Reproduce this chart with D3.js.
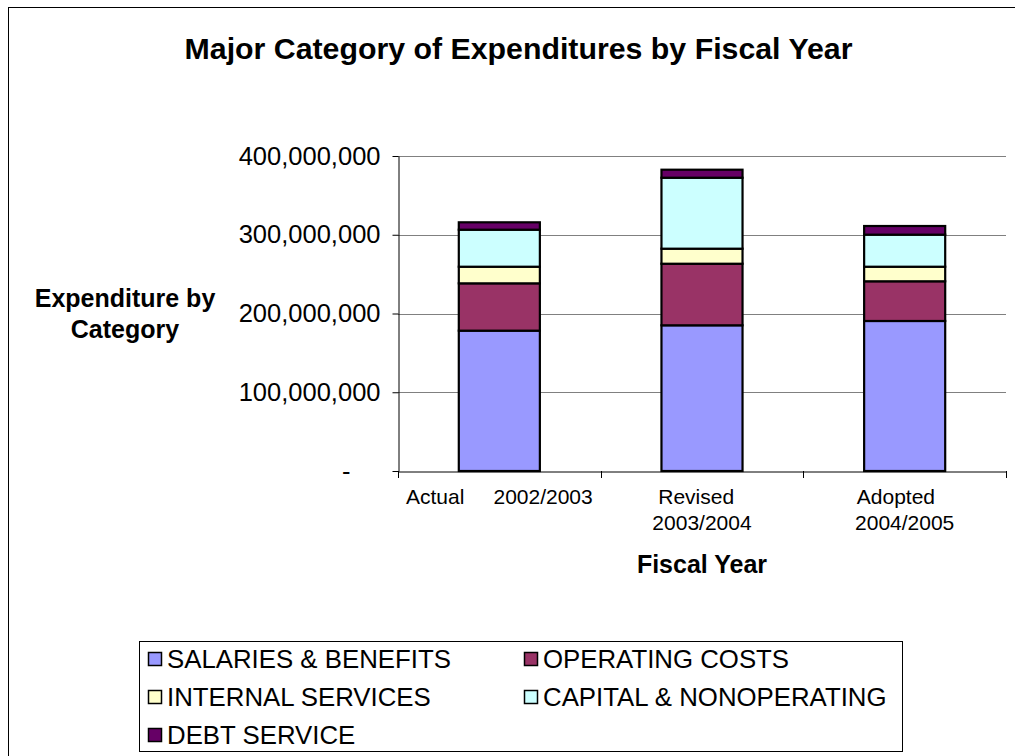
<!DOCTYPE html>
<html>
<head>
<meta charset="utf-8">
<script src="https://cdn.jsdelivr.net/npm/d3@7"></script>
<style>
  html, body { margin: 0; padding: 0; background: #fff; }
  svg { display: block; }
  text { font-family: Arial, "Liberation Sans", sans-serif; fill: #000; }
</style>
</head>
<body>
<svg id="chart" width="1015" height="756"></svg>
<script>
// Expenditures by major category, per fiscal year (dollars)
const fiscalYears = ["Actual 2002/2003", "Revised 2003/2004", "Adopted 2004/2005"];
const yearLabelLines = [["Actual     2002/2003"], ["Revised  ", "2003/2004"], ["Adopted   ", "2004/2005"]];
const seriesNames = ["SALARIES & BENEFITS", "OPERATING COSTS", "INTERNAL SERVICES", "CAPITAL & NONOPERATING", "DEBT SERVICE"];
const salariesBenefits    = [178.2e6, 185.0e6, 190.5e6];
const operatingCosts      = [60.1e6, 78.2e6, 50.4e6];
const internalServices    = [21.1e6, 19.1e6, 18.5e6];
const capitalNonoperating = [47.0e6, 90.1e6, 40.7e6];
const debtService         = [9.4e6, 10.2e6, 11.0e6];
const yTicks = [0, 100e6, 200e6, 300e6, 400e6];
const seriesColors = ["#9999FF", "#993366", "#FFFFCC", "#CCFFFF", "#660066"];

const seriesValues = [salariesBenefits, operatingCosts, internalServices, capitalNonoperating, debtService];
const table = fiscalYears.map((year, i) => {
  const row = { year };
  seriesNames.forEach((name, k) => { row[name] = seriesValues[k][i]; });
  return row;
});

const svg = d3.select("#chart");

// chart frame
svg.append("rect")
  .attr("x", 8.5).attr("y", 7.5)
  .attr("width", 1100).attr("height", 800)
  .attr("fill", "#fff").attr("stroke", "#000").attr("stroke-width", 1);

const plot = { left: 398, right: 1006, top: 156, bottom: 471 };

const x = d3.scaleBand()
  .domain(fiscalYears)
  .range([plot.left, plot.right])
  .paddingInner(0.6)
  .paddingOuter(0.3);

const y = d3.scaleLinear()
  .domain([0, 400e6])
  .range([plot.bottom, plot.top]);

const color = d3.scaleOrdinal().domain(seriesNames).range(seriesColors);

// horizontal gridlines
svg.append("g")
  .selectAll("line")
  .data(yTicks.filter(t => t > 0))
  .join("line")
  .attr("x1", plot.left).attr("x2", plot.right)
  .attr("y1", d => Math.round(y(d)) + 0.5).attr("y2", d => Math.round(y(d)) + 0.5)
  .attr("stroke", "#808080").attr("stroke-width", 1);

// stacked bars
const stacked = d3.stack().keys(seriesNames)(table);
svg.append("g")
  .selectAll("g")
  .data(stacked)
  .join("g")
  .attr("fill", d => color(d.key))
  .selectAll("rect")
  .data(d => d)
  .join("rect")
  .attr("x", d => x(d.data.year))
  .attr("y", d => y(d[1]))
  .attr("width", x.bandwidth())
  .attr("height", d => y(d[0]) - y(d[1]))
  .attr("stroke", "#000")
  .attr("stroke-width", 2.2);

// y axis
const yAxis = svg.append("g")
  .attr("transform", `translate(${plot.left + 0.5},0)`)
  .call(d3.axisLeft(y)
    .tickValues(yTicks)
    .tickSizeInner(6)
    .tickSizeOuter(0)
    .tickPadding(12)
    .tickFormat(d => d === 0 ? "-" : d3.format(",")(d)));
yAxis.select(".domain").attr("stroke", "#000");
yAxis.selectAll(".tick line").attr("stroke", "#000");
yAxis.selectAll(".tick text")
  .attr("font-size", 25.5)
  .attr("font-family", "Arial, 'Liberation Sans', sans-serif")
  .attr("fill", "#000")
  .attr("dx", d => d === 0 ? -30 : 0);

// x axis
const xAxis = svg.append("g")
  .attr("transform", `translate(0,${plot.bottom + 0.5})`)
  .call(d3.axisBottom(x).tickSize(0).tickSizeOuter(0));
xAxis.select(".domain").attr("stroke", "#000");
xAxis.selectAll(".tick text").each(function (d, i) {
  const t = d3.select(this)
    .text(null)
    .attr("y", 0).attr("dy", null)
    .attr("font-size", 21)
    .attr("font-family", "Arial, 'Liberation Sans', sans-serif")
    .attr("fill", "#000")
    .attr("xml:space", "preserve")
    .style("white-space", "pre");
  yearLabelLines[i].forEach((line, j) => {
    t.append("tspan").attr("x", 0).attr("y", 32 + j * 26).text(line);
  });
});

// category boundary ticks
svg.append("g")
  .selectAll("line")
  .data(d3.range(fiscalYears.length + 1))
  .join("line")
  .attr("x1", i => Math.round(plot.left + i * x.step()) + 0.5)
  .attr("x2", i => Math.round(plot.left + i * x.step()) + 0.5)
  .attr("y1", plot.bottom)
  .attr("y2", plot.bottom + 7)
  .attr("stroke", "#000");

// title
svg.append("text")
  .attr("x", 518.5).attr("y", 59)
  .attr("text-anchor", "middle")
  .attr("font-size", 30.3).attr("font-weight", "bold")
  .text("Major Category of Expenditures by Fiscal Year");

// axis titles
const yTitle = svg.append("text")
  .attr("text-anchor", "middle")
  .attr("font-size", 25).attr("font-weight", "bold");
yTitle.append("tspan").attr("x", 125).attr("y", 307).text("Expenditure by");
yTitle.append("tspan").attr("x", 125).attr("y", 338).text("Category");

svg.append("text")
  .attr("x", 702).attr("y", 573)
  .attr("text-anchor", "middle")
  .attr("font-size", 25).attr("font-weight", "bold")
  .text("Fiscal Year");

// legend
const legend = svg.append("g");
legend.append("rect")
  .attr("x", 139.5).attr("y", 641.5)
  .attr("width", 763).attr("height", 110)
  .attr("fill", "#fff").attr("stroke", "#000");

const item = legend.selectAll("g.item")
  .data(seriesNames)
  .join("g")
  .attr("class", "item")
  .attr("transform", (d, i) => `translate(${148 + (i % 2) * 376},${659 + Math.floor(i / 2) * 38})`);
item.append("rect")
  .attr("x", 0.5).attr("y", -6.5)
  .attr("width", 13).attr("height", 13)
  .attr("fill", d => color(d))
  .attr("stroke", "#000").attr("stroke-width", 1.5);
item.append("text")
  .attr("x", 19).attr("y", 9)
  .attr("font-size", 25.8)
  .text(d => d);
</script>
</body>
</html>
